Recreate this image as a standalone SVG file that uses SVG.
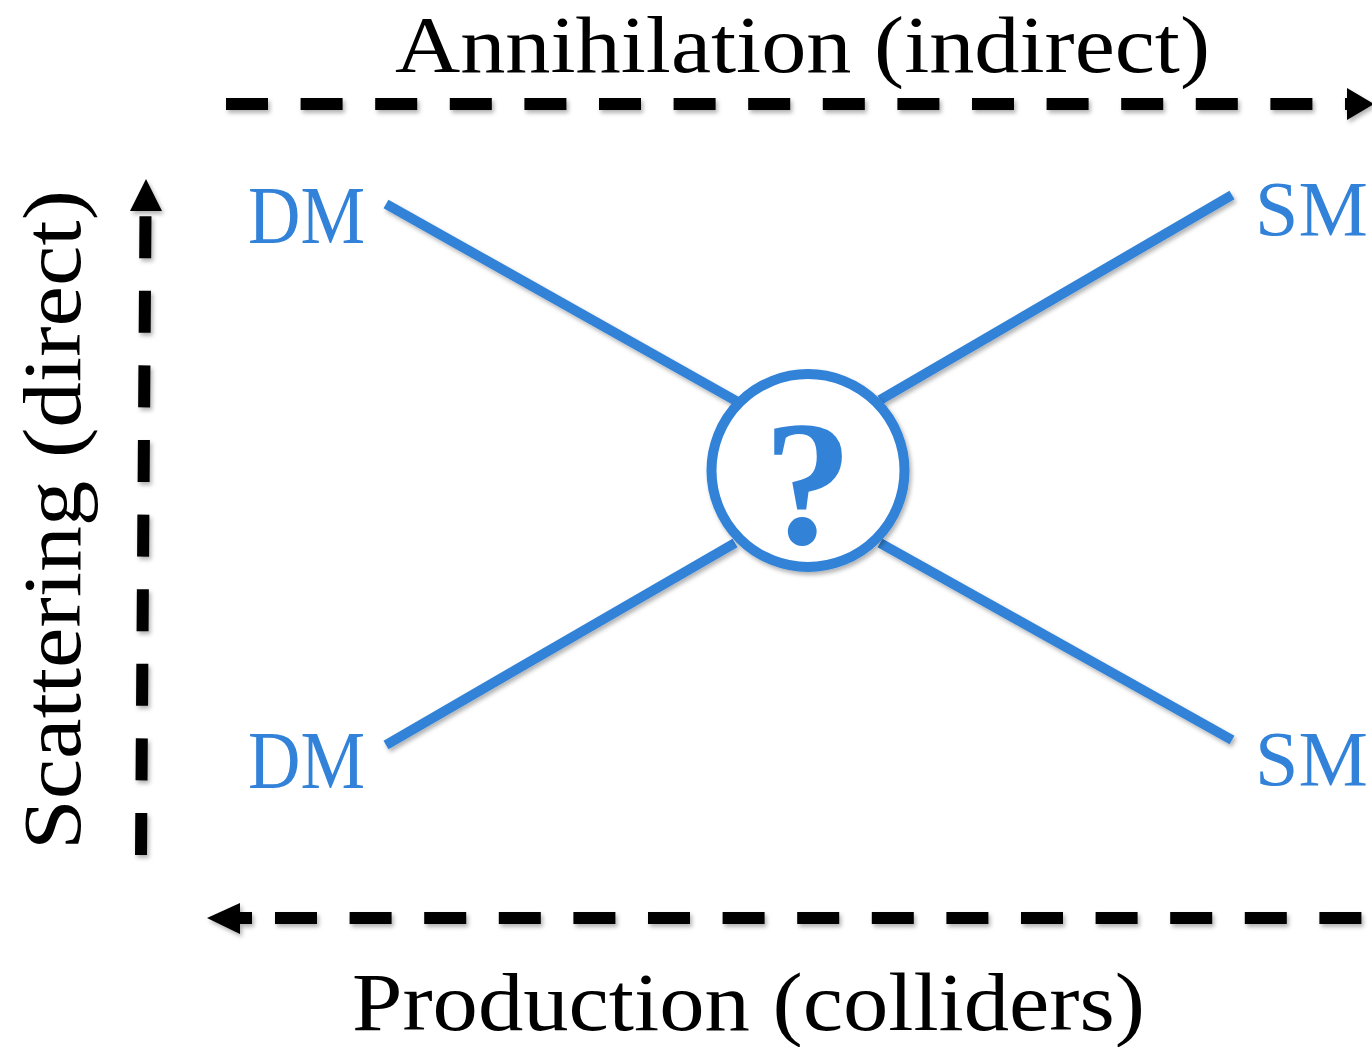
<svg xmlns="http://www.w3.org/2000/svg" width="1372" height="1047" viewBox="0 0 1372 1047">
<defs>
<style>
.lbl{font-family:"Liberation Serif","DejaVu Serif",serif;fill:#000;font-size:82px}
.blue{font-family:"Liberation Serif","DejaVu Serif",serif;fill:#3182D8;font-size:82px}
.leg{stroke:#3182D8;stroke-width:10;fill:none}
.dash{stroke:#000;stroke-width:12;fill:none;stroke-dasharray:42 32.6}
</style>
<filter id="sh" x="-10%" y="-10%" width="120%" height="120%">
<feDropShadow dx="2" dy="3" stdDeviation="2" flood-color="#000" flood-opacity="0.3"/>
</filter>
</defs>
<g id="annihilation-label"><text class="lbl" x="395" y="72" style="font-size:80px" textLength="815" lengthAdjust="spacingAndGlyphs">Annihilation (indirect)</text></g>
<g id="production-label"><text class="lbl" x="352" y="1030" textLength="793" lengthAdjust="spacingAndGlyphs">Production (colliders)</text></g>
<g id="scattering-label"><text class="lbl" transform="translate(80,850) rotate(-90)" x="0" y="0" textLength="660" lengthAdjust="spacingAndGlyphs">Scattering (direct)</text></g>
<g id="connectors" filter="url(#sh)">
<line class="leg" x1="386" y1="204" x2="738" y2="402"/>
<line class="leg" x1="1232" y1="195" x2="880" y2="400"/>
<line class="leg" x1="386" y1="745" x2="735" y2="543"/>
<line class="leg" x1="1232" y1="740" x2="880" y2="543"/>
<path class="dash" d="M226 104 H1350"/>
<polygon points="1347,88 1374,104 1347,120" fill="#000"/>
<path class="dash" d="M141 855 L145.5 213"/>
<polygon points="130,211 162,211 146,179" fill="#000"/>
<path class="dash" d="M275 918 H1372"/>
<path d="M238 918 H252" stroke="#000" stroke-width="12"/>
<polygon points="240,903 240,934 207,918" fill="#000"/>
</g>
<g id="vertex" filter="url(#sh)">
<circle cx="808" cy="470.5" r="96.5" fill="#fff" stroke="#3182D8" stroke-width="10"/>
<text class="blue" x="808" y="543" text-anchor="middle" font-weight="bold" style="font-size:178px">?</text>
</g>
<g id="dm-top"><text class="blue" x="248" y="243" textLength="117" lengthAdjust="spacingAndGlyphs">DM</text></g>
<g id="dm-bottom"><text class="blue" x="248" y="788" textLength="117" lengthAdjust="spacingAndGlyphs">DM</text></g>
<g id="sm-top"><text class="blue" x="1255" y="235" style="font-size:78px">SM</text></g>
<g id="sm-bottom"><text class="blue" x="1255" y="785" style="font-size:78px">SM</text></g>
</svg>
